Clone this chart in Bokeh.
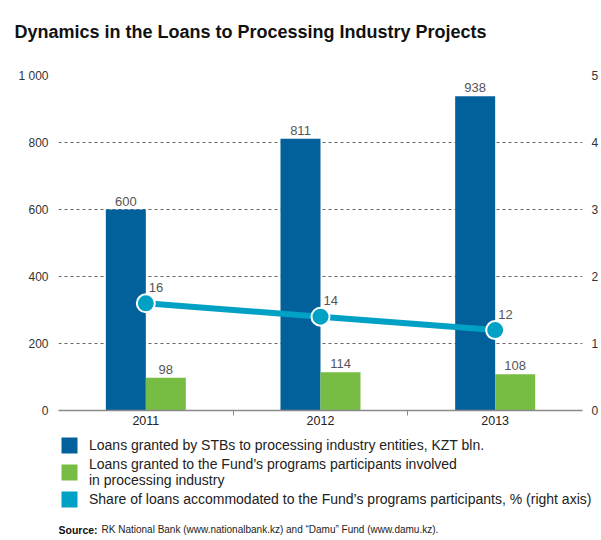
from bokeh.plotting import figure
from bokeh.models import (Range1d, LinearAxis, FixedTicker, Legend,
                          LegendItem, ColumnDataSource)
from bokeh.layouts import column
from bokeh.embed import file_html
from bokeh.resources import INLINE
from bokeh.core.properties import value

# ---- data ----
years = ["2011", "2012", "2013"]
stb_loans = [600, 811, 938]
fund_loans = [98, 114, 108]
share_pct = [16, 14, 12]
left_ticks = [0, 200, 400, 600, 800, 1000]
left_tick_labels = ["0", "200", "400", "600", "800", "1 000"]
right_ticks = [0, 10, 20, 30, 40, 50]
right_tick_labels = ["0", "1", "2", "3", "4", "5"]

title_text = "Dynamics in the Loans to Processing Industry Projects"
legend_labels = [
    "Loans granted by STBs to processing industry entities, KZT bln.",
    "Loans granted to the Fund\u2019s programs participants involved\nin processing industry",
    "Share of loans accommodated to the Fund\u2019s programs participants, % (right axis)",
]
source_bold = "Source:"
source_rest = "RK National Bank (www.nationalbank.kz) and \u201cDamu\u201d Fund (www.damu.kz)."

BLUE = "#02619b"
GREEN = "#77bd43"
TEAL = "#00a1c4"
SANS = "Liberation Sans"

idx = list(range(len(years)))
bw = 0.229
src = ColumnDataSource(dict(
    x=idx,
    x_blue=[i - bw / 2 for i in idx],
    x_green=[i + bw / 2 for i in idx],
    stb=stb_loans, fund=fund_loans, share=share_pct,
    stb_t=[str(v) for v in stb_loans],
    fund_t=[str(v) for v in fund_loans],
    share_t=[str(v) for v in share_pct],
))


def no_frame_align(fig):
    if "frame_align" in type(fig).properties():
        fig.frame_align = False


# ---- top strip: title ----
pt = figure(width=601, height=68, output_backend="svg", toolbar_location=None,
            min_border_left=58, min_border_right=18, min_border_top=0, min_border_bottom=0)
pt.axis.visible = False
pt.grid.visible = False
pt.outline_line_color = None
pt.title.text = title_text
pt.title.text_font = SANS
pt.title.text_font_style = "bold"
pt.title.text_font_size = "18px"
pt.title.text_color = "#111111"
pt.title.align = "left"
pt.title.offset = -44
pt.title.standoff = 38
no_frame_align(pt)

# ---- main chart ----
p = figure(width=601, height=366, x_range=Range1d(-0.5, 2.5), y_range=Range1d(0, 1000),
           output_backend="svg", toolbar_location=None,
           min_border_left=58, min_border_right=18, min_border_top=7, min_border_bottom=24)
p.outline_line_color = None
p.extra_y_ranges = {"share": Range1d(0, 50)}
no_frame_align(p)

# x axis
p.xaxis.ticker = FixedTicker(ticks=idx, minor_ticks=[0.5, 1.5])
p.xaxis.major_label_overrides = {i: years[i] for i in idx}
p.xaxis.major_tick_line_color = None
p.xaxis.major_tick_out = 0
p.xaxis.major_tick_in = 0
p.xaxis.minor_tick_out = 5
p.xaxis.minor_tick_in = 0
p.xaxis.minor_tick_line_color = "#888888"
p.xaxis.axis_line_color = "#8a8a8a"
p.xaxis.axis_line_width = 1.5
p.xaxis.major_label_standoff = 0
p.xaxis.major_label_text_font = SANS
p.xaxis.major_label_text_font_size = "12.5px"
p.xaxis.major_label_text_color = "#222222"
p.xgrid.visible = False

# left axis
p.yaxis.ticker = FixedTicker(ticks=left_ticks)
p.yaxis.major_label_overrides = dict(zip(left_ticks, left_tick_labels))
p.yaxis.axis_line_color = None
p.yaxis.major_tick_line_color = None
p.yaxis.minor_tick_line_color = None
p.yaxis.major_tick_out = 0
p.yaxis.major_label_standoff = 10
p.yaxis.major_label_text_font = SANS
p.yaxis.major_label_text_font_size = "12px"
p.yaxis.major_label_text_color = "#333333"
p.ygrid.ticker = FixedTicker(ticks=left_ticks)
p.ygrid.grid_line_color = "#666666"
p.ygrid.grid_line_dash = "3 3"
p.ygrid.grid_line_width = 1

# right axis
ra = LinearAxis(y_range_name="share", ticker=FixedTicker(ticks=right_ticks))
ra.major_label_overrides = dict(zip(right_ticks, right_tick_labels))
ra.axis_line_color = None
ra.major_tick_line_color = None
ra.minor_tick_line_color = None
ra.major_tick_out = 0
ra.major_label_standoff = 9
ra.major_label_text_font = SANS
ra.major_label_text_font_size = "12px"
ra.major_label_text_color = "#333333"
p.add_layout(ra, "right")

# bars
p.vbar(x="x_blue", top="stb", width=bw, source=src, fill_color=BLUE, line_color=None)
p.vbar(x="x_green", top="fund", width=bw, source=src, fill_color=GREEN, line_color=None)
p.text(x="x_blue", y="stb", text="stb_t", source=src, text_align="center",
       text_baseline="bottom", y_offset=-4, text_font=value(SANS),
       text_font_size="13px", text_color="#555555")
p.text(x="x_green", y="fund", text="fund_t", source=src, text_align="center",
       text_baseline="bottom", y_offset=-4, text_font=value(SANS),
       text_font_size="13px", text_color="#555555")

# share line
p.line(x="x", y="share", source=src, y_range_name="share", line_width=6, line_color=TEAL)
p.scatter(x="x", y="share", source=src, y_range_name="share", size=18,
          fill_color=TEAL, line_color="white", line_width=2)
p.text(x="x", y="share", text="share_t", source=src, y_range_name="share",
       text_align="left", text_baseline="alphabetic", x_offset=3, y_offset=-16,
       text_font=value(SANS), text_font_size="13px", text_color="#555555")

# ---- bottom strip: legend + source ----
pb = figure(width=601, height=106, x_range=Range1d(0, 543), y_range=Range1d(0, 106),
            output_backend="svg", toolbar_location=None,
            min_border_left=58, min_border_right=0, min_border_top=0, min_border_bottom=0)
pb.axis.visible = False
pb.grid.visible = False
pb.outline_line_color = None
no_frame_align(pb)

# zero-height bars from the series: they only supply legend swatches
sw_blue = pb.vbar(x="x", top="stb", bottom="stb", width=0.1, source=src,
                  fill_color=BLUE, line_color=None)
sw_green = pb.vbar(x="x", top="fund", bottom="fund", width=0.1, source=src,
                   fill_color=GREEN, line_color=None)
sw_teal = pb.vbar(x="x", top="share", bottom="share", width=0.1, source=src,
                  fill_color=TEAL, line_color=None)

legend = Legend(items=[LegendItem(label=legend_labels[0], renderers=[sw_blue]),
                       LegendItem(label=legend_labels[1], renderers=[sw_green]),
                       LegendItem(label=legend_labels[2], renderers=[sw_teal])],
                location="top_left", orientation="vertical",
                glyph_width=20, glyph_height=20, label_standoff=10, spacing=1,
                padding=0, margin=1, border_line_color=None, background_fill_alpha=0,
                label_text_font=SANS, label_text_font_size="14px",
                label_text_color="#222222", label_height=20)
pb.add_layout(legend)

pb.text(x=[0], y=[11], text=[source_bold], text_font=value(SANS), text_font_style="bold",
        text_font_size="10.5px", text_baseline="alphabetic", text_color="#111111")
pb.text(x=[43], y=[11], text=[source_rest], text_font=value(SANS),
        text_font_size="10px", text_baseline="alphabetic", text_color="#222222")

layout = column(pt, p, pb, spacing=0)
open("out.html", "w").write(file_html(layout, INLINE))
